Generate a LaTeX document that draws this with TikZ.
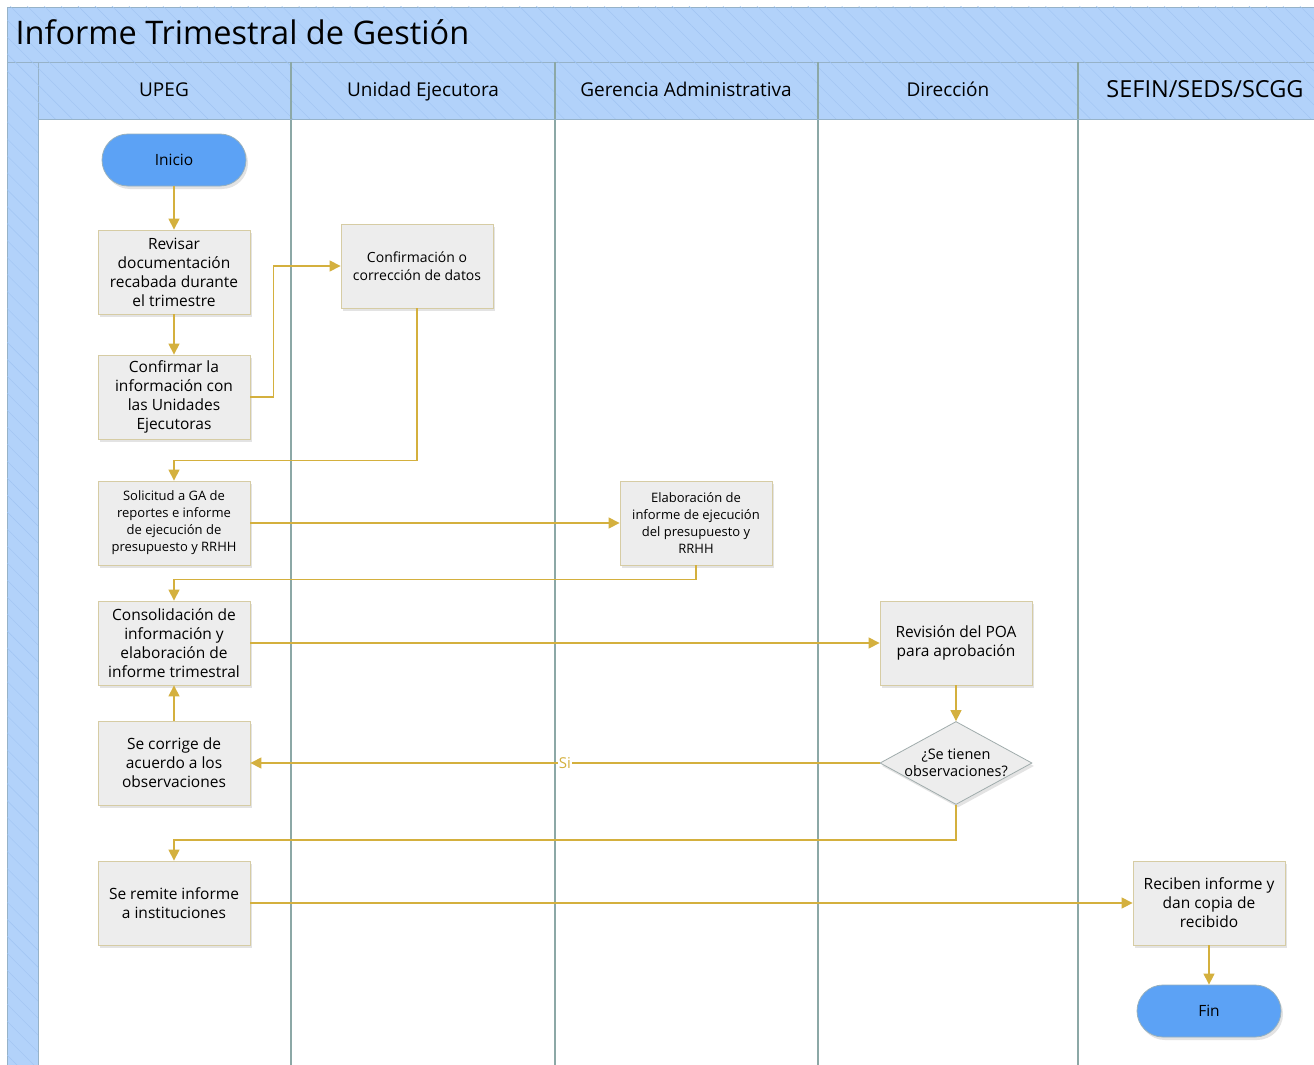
\documentclass[tikz,border=0pt]{standalone}
\usepackage{fontspec}
\setmainfont{Open Sans}
\usetikzlibrary{arrows.meta,shapes.geometric,shadows,patterns.meta}

\definecolor{lanehead}{RGB}{178,210,250}
\definecolor{hatch}{RGB}{160,196,242}
\definecolor{laneline}{RGB}{140,168,166}
\definecolor{frameline}{RGB}{150,178,200}
\definecolor{termblue}{RGB}{92,162,245}
\definecolor{termedge}{RGB}{150,176,190}
\definecolor{boxfill}{RGB}{237,237,237}
\definecolor{boxedge}{RGB}{214,204,164}
\definecolor{flowgold}{RGB}{212,176,62}
\definecolor{diaedge}{RGB}{160,172,172}

\tikzset{
  headband/.style={fill=lanehead, draw=frameline, line width=0.8pt},
  headhatch/.style={pattern={Lines[angle=-45,distance=12pt,line width=0.4pt]}, pattern color=hatch},
  lanename/.style={font=\fontsize{19}{22}\selectfont, anchor=base},
  procbox/.style={draw=boxedge, fill=boxfill, line width=0.8pt, minimum width=152pt,
    minimum height=84pt, align=center, inner sep=2pt, font=\fontsize{15.5}{19}\selectfont,
    drop shadow={opacity=0.22, shadow xshift=2pt, shadow yshift=-3pt}},
  smallbox/.style={procbox, font=\fontsize{13}{17}\selectfont},
  termbox/.style={draw=termedge, fill=termblue, line width=0.8pt, rounded corners=26pt,
    minimum width=144pt, minimum height=52pt, font=\fontsize{15.5}{19}\selectfont,
    drop shadow={opacity=0.22, shadow xshift=2pt, shadow yshift=-3pt}},
  decide/.style={diamond, draw=diaedge, fill=boxfill, line width=0.8pt, aspect=1.83,
    minimum width=152pt, minimum height=83pt, inner sep=-4pt, align=center,
    font=\fontsize{14.5}{17.5}\selectfont,
    drop shadow={opacity=0.22, shadow xshift=2pt, shadow yshift=-3pt}},
  flow/.style={draw=flowgold, line width=1.2pt, -{Triangle[length=11pt,width=11pt]}}
}

\begin{document}
\begin{tikzpicture}[x=1pt,y=-1pt]
    \useasboundingbox (0,0) rectangle (1314,1065);

    % pool and lanes
    \fill[white] (7,7) rectangle (1320,1070);
    \draw[headband] (7,7) rectangle (1320,62);
    \fill[headhatch] (7,7) rectangle (1320,62);
    \draw[headband] (7,62) rectangle (38,1070);
    \fill[headhatch] (7,62) rectangle (38,1070);
    \draw[headband] (38,62) rectangle (1320,119);
    \fill[headhatch] (38,62) rectangle (1320,119);
    \foreach \lx in {291,555,818,1078}
      \draw[laneline, line width=1.2pt] (\lx,62) -- (\lx,1070);
    \draw[frameline, line width=0.8pt] (38,119) -- (1320,119);

    \node[anchor=base west, font=\fontsize{32.5}{38}\selectfont] (titulo) at (12,45) {Informe Trimestral de Gestión};
    \node[lanename] (hUPEG) at (164,96) {UPEG};
    \node[lanename] (hUE) at (423,96) {Unidad Ejecutora};
    \node[lanename] (hGA) at (686,96) {Gerencia Administrativa};
    \node[lanename] (hDir) at (948,96) {Dirección};
    \node[lanename, font=\fontsize{23.5}{27}\selectfont] (hSEFIN) at (1205,97) {SEFIN/SEDS/SCGG};

    % boxes
    \node[termbox] (inicio) at (174,160) {Inicio};
    \node[procbox] (revisar) at (174,272) {Revisar\\documentación\\recabada durante\\el trimestre};
    \node[procbox] (confirmar) at (174,397) {Confirmar la\\información con\\las Unidades\\Ejecutoras};
    \node[smallbox, font=\fontsize{14}{18}\selectfont] (confirmacion) at (417,266) {Confirmación o\\corrección de datos};
    \node[smallbox] (solicitud) at (174,523) {Solicitud a GA de\\reportes e informe\\de ejecución de\\presupuesto y RRHH};
    \node[smallbox] (elaboracion) at (696,523) {Elaboración de\\informe de ejecución\\del presupuesto y\\RRHH};
    \node[procbox] (consolidacion) at (174,643) {Consolidación de\\información y\\elaboración de\\informe trimestral};
    \node[procbox] (revision) at (956,643) {Revisión del POA\\para aprobación};
    \node[decide] (observa) at (956,763) {¿Se tienen\\observaciones?};
    \node[procbox] (corrige) at (174,763) {Se corrige de\\acuerdo a los\\observaciones};
    \node[procbox] (remite) at (174,903) {Se remite informe\\a instituciones};
    \node[procbox] (reciben) at (1209,903) {Reciben informe y\\dan copia de\\recibido};
    \node[termbox] (fin) at (1209,1011) {Fin};

    % connectors
    \draw[flow] (inicio) -- (revisar);
    \draw[flow] (revisar) -- (confirmar);
    \draw[flow] (confirmar.east) -- ++(23,0) |- (confirmacion.west);
    \draw[flow] (confirmacion.south) -- ++(0,152) -| (solicitud.north);
    \draw[flow] (solicitud) -- (elaboracion);
    \draw[flow] (elaboracion.south) -- ++(0,14) -| (consolidacion.north);
    \draw[flow] (consolidacion) -- (revision);
    \draw[flow] (revision) -- (observa);
    \draw[flow] (observa.west) -- node[pos=0.5, fill=white, inner sep=1pt, text=flowgold,
      font=\fontsize{15}{18}\selectfont] {Si} (corrige.east);
    \draw[flow] (corrige) -- (consolidacion);
    \draw[flow] (observa.south) -- ++(0,35) -| (remite.north);
    \draw[flow] (remite) -- (reciben);
    \draw[flow] (reciben) -- (fin);
\end{tikzpicture}
\end{document}
